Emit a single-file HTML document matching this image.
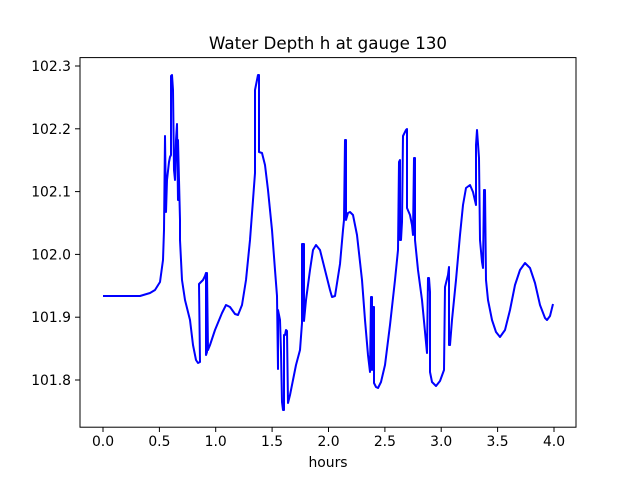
<!DOCTYPE html>
<html><head><meta charset="utf-8"><style>body{margin:0;background:#fff}svg{display:block}text{font-family:"DejaVu Sans","Liberation Sans",sans-serif;fill:#000}</style></head>
<body>
<svg width="640" height="480" xmlns="http://www.w3.org/2000/svg">
<rect width="640" height="480" fill="#fff"/>
<polyline fill="none" stroke="#0000ff" stroke-width="2" stroke-linejoin="round" points="103,296 130,296 140,296 150,293 155,290 160,282 163,260 164,230 165,136 166,212 167,180 169,162 170,157 171,155 171,76 172,75 173,90 174,170 175,180 176,140 177,124 178,200 178,140 180,220 180,240 182,280 185,300 190,320 193,345 196,360 198,363 200,362 199,284 203,280 205,276 206,273 206,355 207,352 207,273 208,350 210,345 215,330 222,313 226,305 230,307 235,314 238,315 242,305 246,280 250,240 253,200 255,173 255,90 257,80 258,75 259,75 259,152 262,153 265,165 268,190 272,230 275,270 277,296 278,369 278,310 280,320 281,352 282,402 283,410 284,410 284,335 285,335 286,330 287,331 288,403 290,395 293,380 296,365 300,350 302,323 302,244 304,244 304,321 306,300 310,270 313,250 316,245 320,250 325,270 330,290 332,297 335,296 340,264 343,230 344,220 345,140 346,140 346,220 348,213 350,212 353,215 357,235 362,280 365,320 368,355 370,372 371,297 372,297 372,370 373,307 374,307 374,383 376,387 378,388 381,382 385,365 390,325 395,280 398,250 399,162 400,160 400,240 401,240 402,222 403,136 406,130 407,129 407,208 410,215 412,225 413,235 414,158 415,158 415,240 418,270 422,300 427,353 428,278 429,278 430,292 430,372 432,382 436,386 440,381 444,370 445,287 448,275 449,267 449,345 450,345 452,320 456,280 460,235 463,205 466,188 470,185 473,192 476,205 476,145 477,130 479,158 480,240 482,262 483,268 484,190 485,190 486,280 488,300 492,320 496,332 500,337 505,330 510,310 515,285 520,270 525,263 530,268 535,283 540,305 545,318 547,320 550,316 553,304"/>
<rect x="80" y="57.6" width="496" height="369.6" fill="none" stroke="#000" stroke-width="1"/>
<g stroke="#000" stroke-width="1">
<line x1="103" y1="427" x2="103" y2="432"/><line x1="159.4" y1="427" x2="159.4" y2="432"/><line x1="215.7" y1="427" x2="215.7" y2="432"/><line x1="272.1" y1="427" x2="272.1" y2="432"/><line x1="328.5" y1="427" x2="328.5" y2="432"/><line x1="384.9" y1="427" x2="384.9" y2="432"/><line x1="441.2" y1="427" x2="441.2" y2="432"/><line x1="497.6" y1="427" x2="497.6" y2="432"/><line x1="554" y1="427" x2="554" y2="432"/>
<line x1="75" y1="66" x2="80" y2="66"/><line x1="75" y1="128.8" x2="80" y2="128.8"/><line x1="75" y1="191.6" x2="80" y2="191.6"/><line x1="75" y1="254.4" x2="80" y2="254.4"/><line x1="75" y1="317.2" x2="80" y2="317.2"/><line x1="75" y1="380" x2="80" y2="380"/>
</g>
<g font-size="13.9" text-anchor="middle">
<text x="103" y="446">0.0</text><text x="159.4" y="446">0.5</text><text x="215.7" y="446">1.0</text><text x="272.1" y="446">1.5</text><text x="328.5" y="446">2.0</text><text x="384.9" y="446">2.5</text><text x="441.2" y="446">3.0</text><text x="497.6" y="446">3.5</text><text x="554" y="446">4.0</text>
<text x="328" y="467">hours</text>
</g>
<g font-size="13.9" text-anchor="end">
<text x="71" y="71">102.3</text><text x="71" y="133.8">102.2</text><text x="71" y="196.6">102.1</text><text x="71" y="259.4">102.0</text><text x="71" y="322.2">101.9</text><text x="71" y="385">101.8</text>
</g>
<text x="328" y="49" font-size="16.7" text-anchor="middle">Water Depth h at gauge 130</text>
</svg>
</body></html>
